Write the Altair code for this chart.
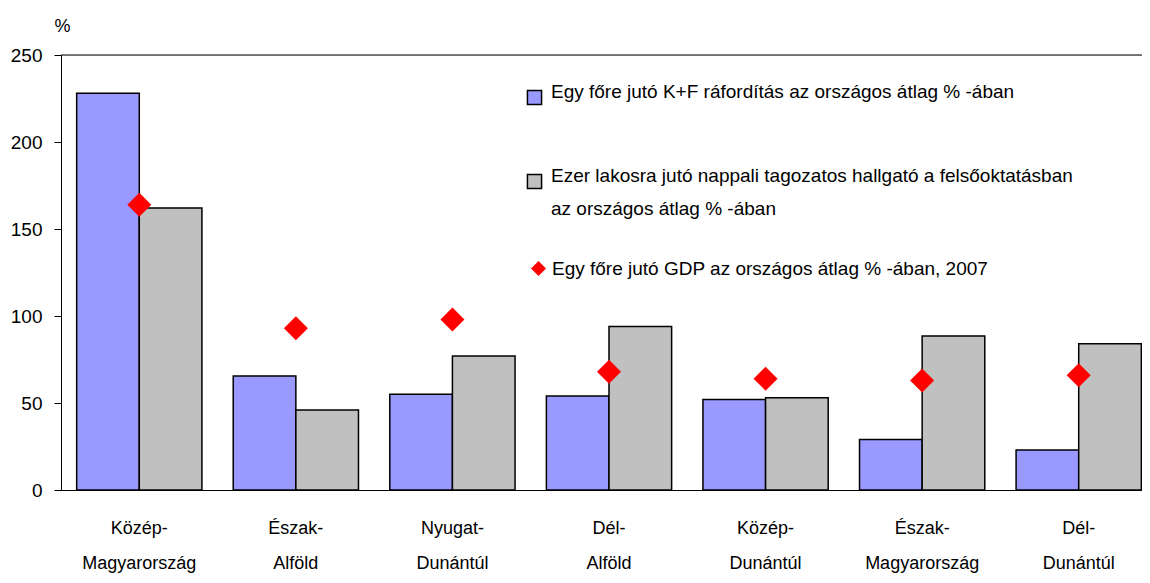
import altair as alt
import pandas as pd

categories = ["Közép-|Magyarország", "Észak-|Alföld", "Nyugat-|Dunántúl", "Dél-|Alföld",
              "Közép-|Dunántúl", "Észak-|Magyarország", "Dél-|Dunántúl"]
kf_values = [228, 65.5, 55, 54, 52, 29, 23]
student_values = [162, 46, 77, 94, 53, 88.5, 84]
gdp_values = [164, 93, 98, 68, 64, 63, 66]

s_kf = "Egy főre jutó K+F ráfordítás az országos átlag % -ában"
s_st = "Ezer lakosra jutó nappali tagozatos hallgató a felsőoktatásban|az országos átlag % -ában"
s_gdp = "Egy főre jutó GDP az országos átlag % -ában, 2007"

rows = []
for c, a, b in zip(categories, kf_values, student_values):
    rows.append({"cat": c, "series": s_kf, "value": a})
    rows.append({"cat": c, "series": s_st, "value": b})
bars_df = pd.DataFrame(rows)
gdp_df = pd.DataFrame({"cat": categories, "value": gdp_values, "g": [s_gdp] * len(categories)})

FONT = "Liberation Sans"

xscale = alt.Scale(domain=categories, range=[0, 1096], paddingInner=0.2, paddingOuter=0.1)
yscale = alt.Scale(domain=[0, 250])

xaxis = alt.Axis(title=None, labelExpr="split(datum.label, '|')", labelAngle=0,
                 labelFontSize=18, labelFont=FONT, labelColor="black", labelLineHeight=35,
                 labelPadding=43, labelBaseline="alphabetic", ticks=False, domainColor="black",
                 domainWidth=1)
yaxis = alt.Axis(title="%", titleAngle=0, titleX=1, titleY=-24, titleAlign="center",
                 titleBaseline="alphabetic", titleFontSize=18, titleFont=FONT,
                 titleFontWeight="normal", titleColor="black",
                 values=[0, 50, 100, 150, 200, 250], labelFontSize=19, labelFont=FONT,
                 labelColor="black", labelPadding=12, tickSize=7, tickColor="black",
                 domainColor="black", grid=False)

bars = alt.Chart(bars_df).mark_bar(stroke="black", strokeWidth=1.5).encode(
    x=alt.X("cat:N", scale=xscale, axis=xaxis, sort=categories),
    xOffset=alt.XOffset("series:N", sort=[s_kf, s_st]),
    y=alt.Y("value:Q", scale=yscale, axis=yaxis),
    fill=alt.Fill("series:N", scale=alt.Scale(domain=[s_kf, s_st], range=["#9999FF", "#C0C0C0"]),
                  legend=alt.Legend(title=None, orient="none", legendX=464, legendY=33,
                                    symbolType="square", symbolSize=200, symbolStrokeColor="black",
                                    symbolStrokeWidth=1.5, labelFontSize=19, labelFont=FONT,
                                    labelColor="black", labelLimit=800, labelOffset=7,
                                    labelExpr="split(datum.label, '|')", labelBaseline="alphabetic",
                                    rowPadding=58, padding=0)),
)

points = alt.Chart(gdp_df).mark_point(filled=True, color="#FF0000", size=576, opacity=1).encode(
    x=alt.X("cat:N", scale=xscale, sort=categories),
    y=alt.Y("value:Q", scale=yscale),
    shape=alt.Shape("g:N", scale=alt.Scale(domain=[s_gdp], range=["diamond"]),
                    legend=alt.Legend(title=None, orient="none", legendX=468, legendY=204,
                                      symbolSize=225, symbolFillColor="#FF0000", symbolStrokeWidth=0,
                                      labelFontSize=19, labelFont=FONT, labelColor="black",
                                      labelLimit=800, labelOffset=4, labelBaseline="middle",
                                      padding=0)),
)

toprule = alt.Chart(pd.DataFrame({"v": [250]})).mark_rule(color="black", strokeWidth=1).encode(
    y=alt.Y("v:Q", scale=yscale)
)

chart = alt.layer(toprule, bars, points).properties(
    width=1081, height=435,
    autosize=alt.AutoSizeParams(type="none"),
    padding={"left": 53, "top": 47, "right": 0, "bottom": 85},
).configure_view(stroke=None).configure(background="white", style={"guide-label": {"lineHeight": 33}})

chart.save("out.html", embed_options={"renderer": "svg", "actions": False})
